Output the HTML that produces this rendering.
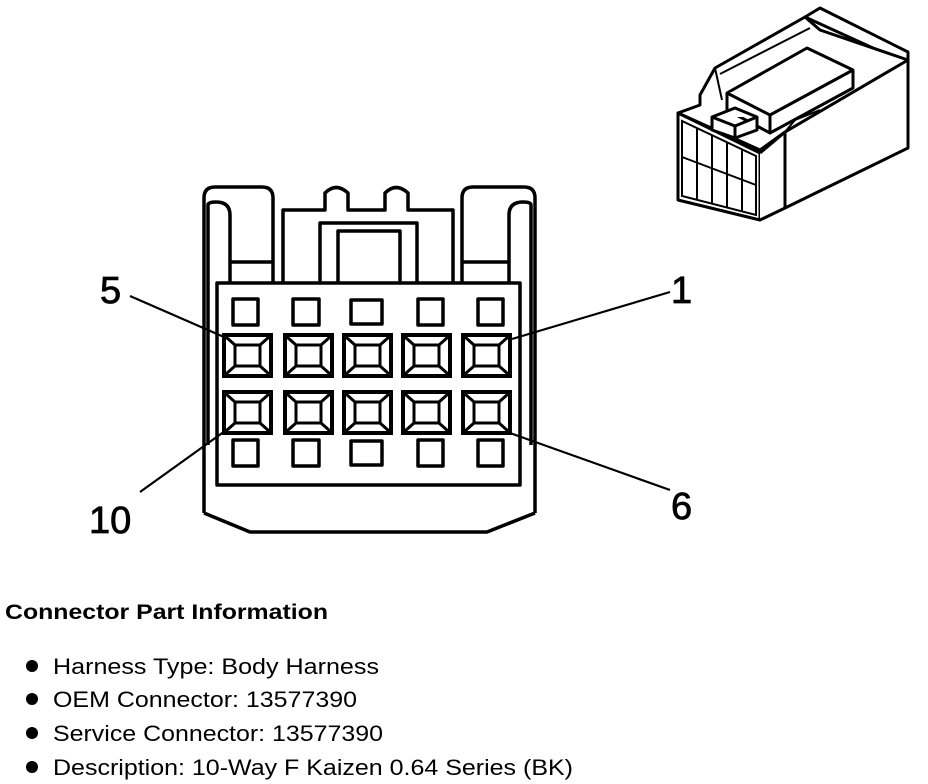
<!DOCTYPE html>
<html><head><style>
body{margin:0;background:#fff;width:928px;height:784px;overflow:hidden}
svg{display:block}
text{font-family:"Liberation Sans",Arial,sans-serif;fill:#000}
</style></head><body>
<svg width="928" height="784" viewBox="0 0 928 784" xmlns="http://www.w3.org/2000/svg">
<g fill="none" stroke="#000" stroke-width="3.5" stroke-linejoin="round">
<path d="M204,513 L204,198 Q204,187 215,187 L262,187 Q273,187 273,198 L273,283"/>
<path d="M535,513 L535,198 Q535,187 524,187 L473,187 Q462,187 462,198 L462,283"/>
<path d="M204,513 L250,532 L487,532 L535,513"/>
<path d="M208,445 L208,205 Q208,202 216,202 Q230,202 230,215 L230,283 M230,262 L273,262"/>
<path d="M531,445 L531,205 Q531,202 523,202 Q509,202 509,215 L509,283 M509,262 L462,262"/>
<path d="M283,283 L283,210 L325,210 L325,193 Q336,182 348,193 L348,210 L385,210 L385,193 Q396,182 408,193 L408,210 L453,210 L453,283"/>
<path d="M320,283 L320,223 L417,223 L417,283"/>
<path d="M338,283 L338,231 L400,231 L400,283"/>
<rect x="217" y="283" width="303" height="202"/>
<rect x="233" y="299" width="25" height="26"/><rect x="293" y="299" width="26" height="26"/><rect x="351" y="300" width="31" height="24"/><rect x="418" y="299" width="25" height="26"/><rect x="478" y="299" width="25" height="26"/>
<rect x="233" y="440" width="25" height="26"/><rect x="293" y="440" width="26" height="26"/><rect x="351" y="441" width="31" height="24"/><rect x="418" y="440" width="25" height="26"/><rect x="478" y="440" width="25" height="26"/>
</g>
<g fill="none" stroke="#000" stroke-width="3">
<g id="t">
<rect x="224" y="335" width="47" height="41" stroke-width="4"/>
<rect x="235" y="345" width="25" height="21"/>
<path d="M226,337 L235,345 M269,337 L260,345 M226,374 L235,366 M269,374 L260,366"/>
</g>
<use href="#t" x="61"/><use href="#t" x="120"/><use href="#t" x="179"/><use href="#t" x="239"/>
<use href="#t" y="57"/><use href="#t" x="61" y="57"/><use href="#t" x="120" y="57"/><use href="#t" x="179" y="57"/><use href="#t" x="239" y="57"/>
</g>
<g stroke="#000" stroke-width="2.2">
<path d="M130,296 L224,337"/><path d="M670,292 L512,339"/>
<path d="M140,492 L225,431"/><path d="M670,490 L510,433"/>
</g>
<g font-size="38" stroke="#000" stroke-width="0.8">
<text x="100" y="303">5</text>
<text x="671" y="303">1</text>
<text x="89" y="533">10</text>
<text x="671" y="519">6</text>
</g>
<g fill="#fff" stroke="#000" stroke-width="3" stroke-linejoin="round">
<path d="M805,17 L820,8 L908,52 L908,148 L785,208 L785,132 L900,60 L895,58 Z"/>
<path d="M700,95 L715,68 L805,17 L820,30 L908,60 L785,132 L760,150 L678,113 L700,105 Z"/>
<path d="M727,93 L807,48 L853,70 L853,88 L770,133 L727,110 Z"/>
<path d="M727,93 L770,115 L853,70 M770,115 L770,133"/>
<path d="M678,113 L760,153 L760,220 L678,200 Z"/>
<path d="M760,153 L785,132 L785,208 L760,220"/>
<path d="M712,117 L735,108 L757,117 L757,130 L735,138 L712,130 Z M712,117 L735,126 L757,117 M735,126 L735,138"/>
</g>
<g fill="none" stroke="#000" stroke-width="2">
<path d="M715,68 L722,100 M720,74 L810,28"/>
<path d="M682,121 L756,156 L756,215 L682,196 Z M682,157 L756,185"/>
<path d="M697,128 L697,200 M712,135 L712,204 M727,142 L727,208 M742,149 L742,212"/>
<path d="M785,132 L795,120 L820,110"/>
</g>
<text x="5" y="619" font-size="21" font-weight="bold" textLength="323" lengthAdjust="spacingAndGlyphs">Connector Part Information</text>
<g font-size="22">
<circle cx="32" cy="666" r="6"/><text x="53" y="674" textLength="326" lengthAdjust="spacingAndGlyphs">Harness Type: Body Harness</text>
<circle cx="32" cy="699" r="6"/><text x="53" y="707" textLength="304" lengthAdjust="spacingAndGlyphs">OEM Connector: 13577390</text>
<circle cx="32" cy="733" r="6"/><text x="53" y="741" textLength="330" lengthAdjust="spacingAndGlyphs">Service Connector: 13577390</text>
<circle cx="32" cy="767" r="6"/><text x="53" y="775" textLength="520" lengthAdjust="spacingAndGlyphs">Description: 10-Way F Kaizen 0.64 Series (BK)</text>
</g>
</svg>
</body></html>
